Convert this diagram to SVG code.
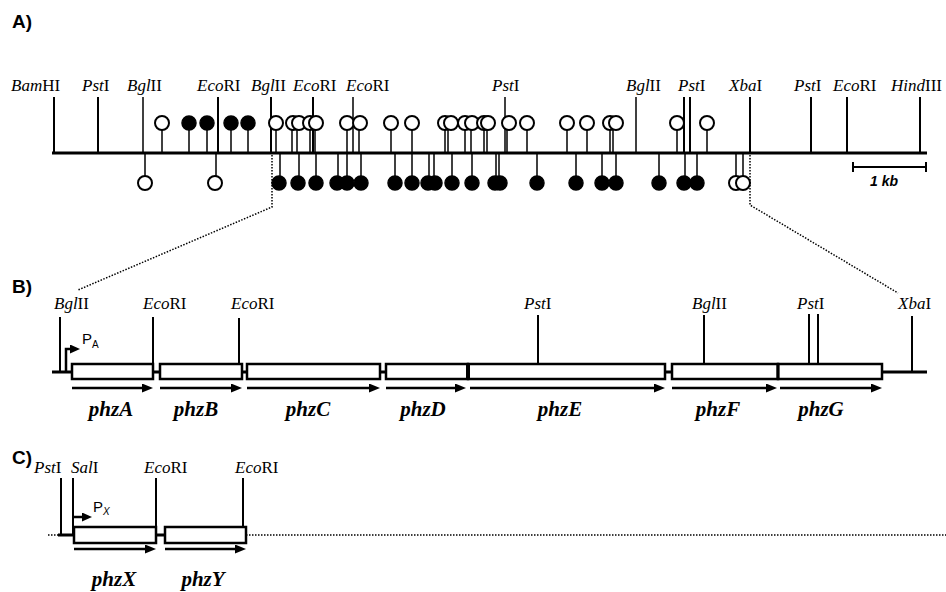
<svg xmlns="http://www.w3.org/2000/svg" width="946" height="592" viewBox="0 0 946 592">
<defs>
<style>
.bg{fill:#fff}
.base{stroke:#000;stroke-width:3;fill:none}
.site{stroke:#000;stroke-width:2;fill:none}
.thin{stroke:#000;stroke-width:1.5;fill:none}
.stem{stroke:#000;stroke-width:1.5;fill:none}
.o{fill:#fff;stroke:#000;stroke-width:2}
.f{fill:#000;stroke:#000;stroke-width:1.5}
.dot{stroke:#000;stroke-width:1.5;stroke-dasharray:1.5 1.5;fill:none}
.box{fill:#fff;stroke:#000;stroke-width:2.5}
.arr{stroke:#000;stroke-width:2.5;fill:none;marker-end:url(#ah)}
.prom{stroke:#000;stroke-width:2.5;fill:none;marker-end:url(#ahs)}
.lbl{font-family:"Liberation Serif","Times New Roman",serif;font-size:17px;fill:#000}
.gene{font-family:"Liberation Serif","Times New Roman",serif;font-size:21px;font-weight:bold;font-style:italic;fill:#000;text-anchor:middle}
.panel{font-family:"Liberation Sans",Arial,sans-serif;font-size:19px;font-weight:bold;fill:#000}
.sans{font-family:"Liberation Sans",Arial,sans-serif;fill:#000}
</style>
<marker id="ah" markerWidth="11" markerHeight="9" refX="6" refY="4.5" orient="auto" markerUnits="userSpaceOnUse"><path d="M0,0 L11,4.5 L0,9 z" fill="#000"/></marker>
<marker id="ahs" markerWidth="10" markerHeight="9" refX="5" refY="4.5" orient="auto" markerUnits="userSpaceOnUse"><path d="M0,0 L10,4.5 L0,9 z" fill="#000"/></marker>
</defs>
<rect class="bg" x="0" y="0" width="946" height="592"/>

<!-- Panel A -->
<g id="panel-a">
<text class="panel" x="12" y="28">A)</text>
<g id="a-sites">
<line class="site" x1="54" y1="97" x2="54" y2="153"/>
<line class="site" x1="98" y1="97" x2="98" y2="153"/>
<line class="thin" x1="143" y1="97" x2="143" y2="153"/>
<line class="site" x1="218" y1="97" x2="218" y2="153"/>
<line class="site" x1="271" y1="97" x2="271" y2="153"/>
<line class="site" x1="313" y1="97" x2="313" y2="153"/>
<line class="thin" x1="353" y1="97" x2="353" y2="153"/>
<line class="thin" x1="505" y1="97" x2="505" y2="153"/>
<line class="thin" x1="636" y1="97" x2="636" y2="153"/>
<line class="site" x1="684" y1="97" x2="684" y2="153"/>
<line class="site" x1="690" y1="97" x2="690" y2="153"/>
<line class="site" x1="750" y1="97" x2="750" y2="153"/>
<line class="site" x1="811" y1="97" x2="811" y2="153"/>
<line class="site" x1="847" y1="97" x2="847" y2="153"/>
<line class="site" x1="920" y1="97" x2="920" y2="153"/>
<text class="lbl" x="11" y="91"><tspan font-style="italic">Bam</tspan>HI</text>
<text class="lbl" x="82" y="91"><tspan font-style="italic">Pst</tspan>I</text>
<text class="lbl" x="127" y="91"><tspan font-style="italic">Bgl</tspan>II</text>
<text class="lbl" x="197" y="91"><tspan font-style="italic">Eco</tspan>RI</text>
<text class="lbl" x="251" y="91"><tspan font-style="italic">Bgl</tspan>II</text>
<text class="lbl" x="293" y="91"><tspan font-style="italic">Eco</tspan>RI</text>
<text class="lbl" x="346" y="91"><tspan font-style="italic">Eco</tspan>RI</text>
<text class="lbl" x="492" y="91"><tspan font-style="italic">Pst</tspan>I</text>
<text class="lbl" x="626" y="91"><tspan font-style="italic">Bgl</tspan>II</text>
<text class="lbl" x="678" y="91"><tspan font-style="italic">Pst</tspan>I</text>
<text class="lbl" x="729" y="91"><tspan font-style="italic">Xba</tspan>I</text>
<text class="lbl" x="794" y="91"><tspan font-style="italic">Pst</tspan>I</text>
<text class="lbl" x="833" y="91"><tspan font-style="italic">Eco</tspan>RI</text>
<text class="lbl" x="891" y="91"><tspan font-style="italic">Hind</tspan>III</text>
</g>
<g id="a-above">
<line class="stem" x1="162" y1="153" x2="162" y2="130"/><circle class="o" cx="162" cy="123" r="7"/>
<line class="stem" x1="189" y1="153" x2="189" y2="130"/><circle class="f" cx="189" cy="123" r="7"/>
<line class="stem" x1="207" y1="153" x2="207" y2="130"/><circle class="f" cx="207" cy="123" r="7"/>
<line class="stem" x1="231" y1="153" x2="231" y2="130"/><circle class="f" cx="231" cy="123" r="7"/>
<line class="stem" x1="248" y1="153" x2="248" y2="130"/><circle class="f" cx="248" cy="123" r="7"/>
<line class="stem" x1="276" y1="153" x2="276" y2="130"/><circle class="o" cx="276" cy="123" r="7"/>
<line class="stem" x1="292" y1="153" x2="292" y2="130"/><circle class="o" cx="293" cy="123" r="7"/>
<line class="stem" x1="297" y1="153" x2="297" y2="130"/><circle class="o" cx="299" cy="123" r="7"/>
<line class="stem" x1="310" y1="153" x2="310" y2="130"/><circle class="o" cx="310" cy="123" r="7"/>
<line class="stem" x1="315" y1="153" x2="315" y2="130"/><circle class="o" cx="316" cy="123" r="7"/>
<line class="stem" x1="347" y1="153" x2="347" y2="130"/><circle class="o" cx="347" cy="123" r="7"/>
<line class="stem" x1="359" y1="153" x2="359" y2="130"/><circle class="o" cx="360" cy="123" r="7"/>
<line class="stem" x1="391" y1="153" x2="391" y2="130"/><circle class="o" cx="391" cy="123" r="7"/>
<line class="stem" x1="412" y1="153" x2="412" y2="130"/><circle class="o" cx="412" cy="123" r="7"/>
<line class="stem" x1="445" y1="153" x2="445" y2="130"/><circle class="o" cx="445" cy="123" r="7"/>
<line class="stem" x1="448" y1="153" x2="448" y2="130"/><circle class="o" cx="451" cy="123" r="7"/>
<line class="stem" x1="465" y1="153" x2="465" y2="130"/><circle class="o" cx="465" cy="123" r="7"/>
<line class="stem" x1="471" y1="153" x2="471" y2="130"/><circle class="o" cx="472" cy="123" r="7"/>
<line class="stem" x1="484" y1="153" x2="484" y2="130"/><circle class="o" cx="484" cy="123" r="7"/>
<line class="stem" x1="487" y1="153" x2="487" y2="130"/><circle class="o" cx="488" cy="123" r="7"/>
<line class="stem" x1="507" y1="153" x2="507" y2="130"/><circle class="o" cx="509" cy="123" r="7"/>
<line class="stem" x1="527" y1="153" x2="527" y2="130"/><circle class="o" cx="527" cy="123" r="7"/>
<line class="stem" x1="567" y1="153" x2="567" y2="130"/><circle class="o" cx="567" cy="123" r="7"/>
<line class="stem" x1="587" y1="153" x2="587" y2="130"/><circle class="o" cx="587" cy="123" r="7"/>
<line class="stem" x1="610" y1="153" x2="610" y2="130"/><circle class="o" cx="610" cy="123" r="7"/>
<line class="stem" x1="613" y1="153" x2="613" y2="130"/><circle class="o" cx="616" cy="123" r="7"/>
<line class="stem" x1="677" y1="153" x2="677" y2="130"/><circle class="o" cx="677" cy="123" r="7"/>
<line class="stem" x1="707" y1="153" x2="707" y2="130"/><circle class="o" cx="707" cy="123" r="7"/>
</g>
<g id="a-below">
<line class="stem" x1="145" y1="153" x2="145" y2="176"/><circle class="o" cx="145" cy="183" r="7"/>
<line class="stem" x1="216" y1="153" x2="216" y2="176"/><circle class="o" cx="215" cy="183" r="7"/>
<line class="stem" x1="280" y1="153" x2="280" y2="176"/><circle class="f" cx="279" cy="183" r="7"/>
<line class="stem" x1="299" y1="153" x2="299" y2="176"/><circle class="f" cx="298" cy="183" r="7"/>
<line class="stem" x1="316" y1="153" x2="316" y2="176"/><circle class="f" cx="316" cy="183" r="7"/>
<line class="stem" x1="338" y1="153" x2="338" y2="176"/><circle class="f" cx="337" cy="183" r="7"/>
<line class="stem" x1="347" y1="153" x2="347" y2="176"/><circle class="f" cx="347" cy="183" r="7"/>
<line class="stem" x1="361" y1="153" x2="361" y2="176"/><circle class="f" cx="361" cy="183" r="7"/>
<line class="stem" x1="395" y1="153" x2="395" y2="176"/><circle class="f" cx="395" cy="183" r="7"/>
<line class="stem" x1="412" y1="153" x2="412" y2="176"/><circle class="f" cx="412" cy="183" r="7"/>
<line class="stem" x1="429" y1="153" x2="429" y2="176"/><circle class="f" cx="428" cy="183" r="7"/>
<line class="stem" x1="434" y1="153" x2="434" y2="176"/><circle class="f" cx="435" cy="183" r="7"/>
<line class="stem" x1="452" y1="153" x2="452" y2="176"/><circle class="f" cx="452" cy="183" r="7"/>
<line class="stem" x1="472" y1="153" x2="472" y2="176"/><circle class="f" cx="472" cy="183" r="7"/>
<line class="stem" x1="496" y1="153" x2="496" y2="176"/><circle class="f" cx="495" cy="183" r="7"/>
<line class="stem" x1="499" y1="153" x2="499" y2="176"/><circle class="f" cx="500" cy="183" r="7"/>
<line class="stem" x1="537" y1="153" x2="537" y2="176"/><circle class="f" cx="537" cy="183" r="7"/>
<line class="stem" x1="576" y1="153" x2="576" y2="176"/><circle class="f" cx="576" cy="183" r="7"/>
<line class="stem" x1="602" y1="153" x2="602" y2="176"/><circle class="f" cx="602" cy="183" r="7"/>
<line class="stem" x1="616" y1="153" x2="616" y2="176"/><circle class="f" cx="616" cy="183" r="7"/>
<line class="stem" x1="659" y1="153" x2="659" y2="176"/><circle class="f" cx="659" cy="183" r="7"/>
<line class="stem" x1="685" y1="153" x2="685" y2="176"/><circle class="f" cx="684" cy="183" r="7"/>
<line class="stem" x1="697" y1="153" x2="697" y2="176"/><circle class="f" cx="697" cy="183" r="7"/>
<line class="stem" x1="736" y1="153" x2="736" y2="176"/><circle class="o" cx="736" cy="183" r="7"/>
<line class="stem" x1="743" y1="153" x2="743" y2="176"/><circle class="o" cx="743" cy="183" r="7"/>
</g>
<line class="base" x1="52" y1="153" x2="927" y2="153"/>
<g id="scale-bar">
<line class="site" x1="853" y1="167" x2="926" y2="167"/>
<line class="site" x1="853" y1="162" x2="853" y2="172"/>
<line class="site" x1="926" y1="162" x2="926" y2="172"/>
<text class="sans" x="884" y="186" font-size="14" font-weight="bold" font-style="italic" text-anchor="middle">1 kb</text>
</g>
</g>

<!-- Zoom connectors -->
<g id="connectors">
<polyline class="dot" points="272,155 272,207 78,290"/>
<polyline class="dot" points="750,155 750,205 898,293"/>
</g>

<!-- Panel B -->
<g id="panel-b">
<text class="panel" x="12" y="293">B)</text>
<line class="base" x1="52" y1="372" x2="927" y2="372"/>
<g id="b-genes">
<rect class="box" x="72" y="364" width="81" height="15"/>
<rect class="box" x="160" y="364" width="82" height="15"/>
<rect class="box" x="247" y="364" width="133" height="15"/>
<rect class="box" x="386" y="364" width="82" height="15"/>
<rect class="box" x="468" y="364" width="197" height="15"/>
<rect class="box" x="672" y="364" width="106" height="15"/>
<rect class="box" x="778" y="364" width="104" height="15"/>
<line stroke="#000" stroke-width="4" x1="468" y1="364" x2="468" y2="379"/>
<line stroke="#000" stroke-width="3" x1="778" y1="364" x2="778" y2="379"/>
<line class="arr" x1="72" y1="388" x2="148" y2="388"/>
<line class="arr" x1="160" y1="388" x2="237" y2="388"/>
<line class="arr" x1="247" y1="388" x2="375" y2="388"/>
<line class="arr" x1="386" y1="388" x2="461" y2="388"/>
<line class="arr" x1="470" y1="388" x2="660" y2="388"/>
<line class="arr" x1="672" y1="388" x2="772" y2="388"/>
<line class="arr" x1="780" y1="388" x2="877" y2="388"/>
<text class="gene" x="111" y="416">phzA</text>
<text class="gene" x="196" y="416">phzB</text>
<text class="gene" x="308" y="416">phzC</text>
<text class="gene" x="423" y="416">phzD</text>
<text class="gene" x="560" y="416">phzE</text>
<text class="gene" x="718" y="416">phzF</text>
<text class="gene" x="821" y="416">phzG</text>
</g>
<g id="b-sites">
<line class="site" x1="60" y1="317" x2="60" y2="372"/>
<line class="site" x1="153" y1="317" x2="153" y2="364"/>
<line class="site" x1="239" y1="318" x2="239" y2="364"/>
<line class="site" x1="538" y1="315" x2="538" y2="364"/>
<line class="site" x1="704" y1="315" x2="704" y2="364"/>
<line class="site" x1="809" y1="314" x2="809" y2="364"/>
<line class="site" x1="818" y1="314" x2="818" y2="364"/>
<line class="site" x1="912" y1="316" x2="912" y2="372"/>
<text class="lbl" x="54" y="309"><tspan font-style="italic">Bgl</tspan>II</text>
<text class="lbl" x="143" y="309"><tspan font-style="italic">Eco</tspan>RI</text>
<text class="lbl" x="231" y="309"><tspan font-style="italic">Eco</tspan>RI</text>
<text class="lbl" x="524" y="309"><tspan font-style="italic">Pst</tspan>I</text>
<text class="lbl" x="692" y="309"><tspan font-style="italic">Bgl</tspan>II</text>
<text class="lbl" x="797" y="309"><tspan font-style="italic">Pst</tspan>I</text>
<text class="lbl" x="898" y="309"><tspan font-style="italic">Xba</tspan>I</text>
</g>
<g id="promoter-a">
<path class="prom" d="M66,372 V349 H75"/>
<text class="sans" x="82" y="344" font-size="15">P</text>
<text class="sans" x="92" y="348" font-size="10">A</text>
</g>
</g>

<!-- Panel C -->
<g id="panel-c">
<text class="panel" x="12" y="464">C)</text>
<line class="dot" x1="48" y1="535" x2="58" y2="535"/>
<line class="base" x1="58" y1="535" x2="170" y2="535"/>
<line class="dot" x1="246" y1="535" x2="946" y2="535"/>
<g id="c-genes">
<rect class="box" x="74" y="527" width="82" height="16"/>
<rect class="box" x="165" y="527" width="81" height="16"/>
<line class="arr" x1="74" y1="549" x2="151" y2="549"/>
<line class="arr" x1="165" y1="549" x2="241" y2="549"/>
<text class="gene" x="114" y="586">phzX</text>
<text class="gene" x="203" y="586">phzY</text>
</g>
<g id="c-sites">
<line class="site" x1="61" y1="478" x2="61" y2="535"/>
<line class="site" x1="73" y1="478" x2="73" y2="535"/>
<line class="site" x1="156" y1="478" x2="156" y2="527"/>
<line class="site" x1="243" y1="478" x2="243" y2="527"/>
<text class="lbl" x="34" y="473"><tspan font-style="italic">Pst</tspan>I</text>
<text class="lbl" x="71" y="473"><tspan font-style="italic">Sal</tspan>I</text>
<text class="lbl" x="144" y="473"><tspan font-style="italic">Eco</tspan>RI</text>
<text class="lbl" x="235" y="473"><tspan font-style="italic">Eco</tspan>RI</text>
</g>
<g id="promoter-x">
<path class="prom" d="M73,517 H87"/>
<text class="sans" x="93" y="512" font-size="15">P</text>
<text class="sans" x="103" y="515" font-size="10" font-style="italic">X</text>
</g>
</g>
</svg>
